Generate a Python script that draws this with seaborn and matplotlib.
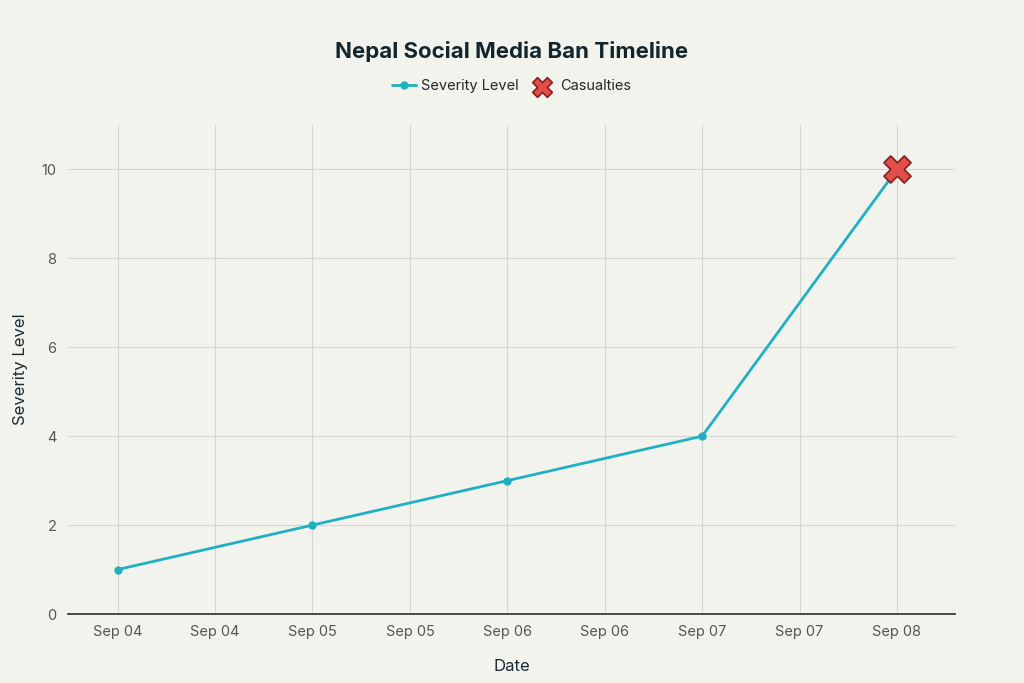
import matplotlib
matplotlib.use("Agg")
import matplotlib.pyplot as plt
import matplotlib.dates as mdates
import seaborn as sns
import pandas as pd

dates = ["2025-09-04", "2025-09-05", "2025-09-06", "2025-09-07", "2025-09-08"]
severity = [1, 2, 3, 4, 10]
casualty_dates = ["2025-09-08"]
casualty_severity = [10]

sns.set_theme(style="whitegrid")
plt.rcParams['font.family'] = ['Inter', 'DejaVu Sans']
bg = "#f3f3ee"
fig, ax = plt.subplots(figsize=(10.24, 6.83), dpi=100)
fig.patch.set_facecolor(bg)
ax.set_facecolor(bg)
fig.subplots_adjust(left=0.066, right=0.933, top=0.817, bottom=0.101)

df = pd.DataFrame({"date": pd.to_datetime(dates), "sev": severity})
dc = pd.DataFrame({"date": pd.to_datetime(casualty_dates), "sev": casualty_severity})
sns.lineplot(data=df, x="date", y="sev", ax=ax, color="#1fb0c4", lw=2, marker="o",
             markersize=6, markeredgewidth=0, label="Severity Level")
sns.scatterplot(data=dc, x="date", y="sev", ax=ax, marker="X", s=380, color="#e0504a",
                edgecolor="#8b1a1a", linewidth=1.2, label="Casualties", zorder=5)

start = pd.Timestamp("2025-09-04")
ax.set_xlim(start - pd.Timedelta(days=0.257), start + pd.Timedelta(days=4.3))
ax.set_ylim(0, 11)
ax.set_yticks([0, 2, 4, 6, 8, 10])
ax.xaxis.set_major_locator(mdates.HourLocator(byhour=[0, 12]))
ax.xaxis.set_major_formatter(mdates.DateFormatter("%b %d"))
ax.grid(True, color="#d5d5d0", lw=0.8)
for s in ["top", "right", "left"]:
    ax.spines[s].set_visible(False)
ax.spines["bottom"].set_color("#333333")
ax.tick_params(axis="both", length=0, labelsize=10.5, colors="#555555", pad=8)
ax.set_xlabel("Date", fontsize=12, color="#1a2b33", labelpad=14)
ax.set_ylabel("Severity Level", fontsize=12, color="#1a2b33", labelpad=10)
fig.suptitle("Nepal Social Media Ban Timeline", fontsize=16, fontweight="bold",
             color="#13262e", y=0.94)
leg = ax.legend(loc="upper center", bbox_to_anchor=(0.5, 1.12), ncol=2, frameon=False,
                fontsize=10.5, handlelength=1.6, columnspacing=0.8, handletextpad=0.4)
leg.legend_handles[0].set_markersize(6)
leg.legend_handles[1].set_sizes([200])
fig.savefig("out.png", dpi=100, facecolor=bg)
